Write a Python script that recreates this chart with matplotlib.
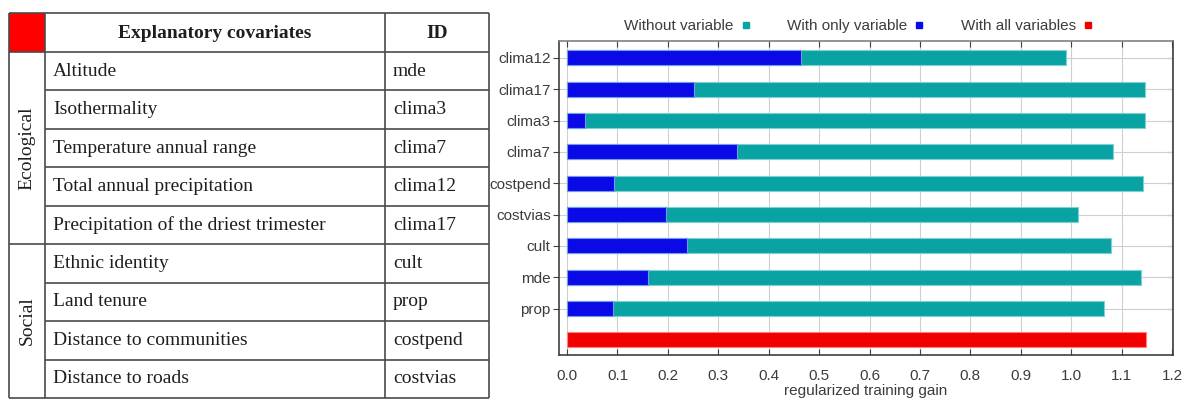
# Covariate table on the left, jackknife of regularized training gain on the right

import matplotlib.pyplot as plt
from matplotlib.lines import Line2D
from matplotlib.patches import Rectangle
import numpy as np

plt.rcParams['font.family'] = ['Liberation Sans', 'DejaVu Sans']

# table contents
groups = ['Ecological', 'Social']
group_sizes = [5, 4]
covariates = ['Altitude', 'Isothermality', 'Temperature annual range',
              'Total annual precipitation',
              'Precipitation of the driest trimester',
              'Ethnic identity', 'Land tenure', 'Distance to communities',
              'Distance to roads']
cov_ids = ['mde', 'clima3', 'clima7', 'clima12', 'clima17',
           'cult', 'prop', 'costpend', 'costvias']

# jackknife values (top to bottom)
variables = ['clima12', 'clima17', 'clima3', 'clima7', 'costpend',
             'costvias', 'cult', 'mde', 'prop']
without_var = [0.989, 1.147, 1.147, 1.083, 1.143, 1.014, 1.079, 1.139, 1.065]
only_var = [0.464, 0.252, 0.036, 0.337, 0.093, 0.196, 0.238, 0.160, 0.092]
all_vars = 1.149

TEAL = '#0aa3a3'
BLUE = '#0a0ae6'
RED = '#f20000'
GREY_TXT = '#3c3c3c'

fig = plt.figure(figsize=(11.85, 3.99), dpi=100)

# ---- table, drawn in pixel coordinates
tab = fig.add_axes([0, 0, 1, 1])
tab.set_xlim(0, 1185)
tab.set_ylim(399, 0)
tab.axis('off')

x0, x1, x2, x3 = 9, 45, 385, 489
y_top, y_head = 13, 52
row_h = (398 - y_head) / len(covariates)
line_kw = dict(color='#4a4a4a', linewidth=1.2, solid_capstyle='butt')
serif = 'Liberation Serif'
txt_col = '#1e1e1e'

tab.add_patch(Rectangle((x0, y_top), x1 - x0, y_head - y_top,
                        facecolor='#ff0000', edgecolor='none', zorder=0))
y_bottom = y_head + row_h * len(covariates)
for x in (x0, x1, x2, x3):
    tab.plot([x, x], [y_top, y_bottom], **line_kw)
tab.plot([x0, x3], [y_top, y_top], **line_kw)
tab.plot([x0, x3], [y_head, y_head], **line_kw)
tab.plot([x0, x3], [y_bottom, y_bottom], **line_kw)

tab.text((x1 + x2) / 2, (y_top + y_head) / 2 + 1, 'Explanatory covariates',
         family=serif, fontsize=14, fontweight='bold', color=txt_col,
         ha='center', va='center')
tab.text((x2 + x3) / 2, (y_top + y_head) / 2 + 1, 'ID',
         family=serif, fontsize=14, fontweight='bold', color=txt_col,
         ha='center', va='center')

for i, (name, cid) in enumerate(zip(covariates, cov_ids)):
    yc = y_head + row_h * (i + 0.5)
    tab.text(x1 + 8, yc, name, family=serif, fontsize=14, color=txt_col,
             ha='left', va='center')
    tab.text(x2 + 8, yc, cid, family=serif, fontsize=14, color=txt_col,
             ha='left', va='center')
    if i > 0:
        tab.plot([x1, x3], [y_head + row_h * i] * 2, **line_kw)

start = 0
for grp, size in zip(groups, group_sizes):
    ya = y_head + row_h * start
    yb = y_head + row_h * (start + size)
    if start > 0:
        tab.plot([x0, x1], [ya, ya], **line_kw)
    tab.text((x0 + x1) / 2, (ya + yb) / 2, grp, family=serif, fontsize=14,
             color=txt_col, rotation=90, ha='center', va='center')
    start += size

# ---- bar chart
ax = fig.add_axes([559 / 1185, 44 / 399, 614 / 1185, 314 / 399])
ypos = np.arange(len(variables))
bar_h = 0.48
ax.barh(ypos, without_var, height=bar_h, color=TEAL,
        edgecolor='#7fd0d0', linewidth=0.8, zorder=2)
ax.barh(ypos, only_var, height=bar_h, color=BLUE,
        edgecolor='#6f9be8', linewidth=0.8, zorder=3)
ax.barh([len(variables)], [all_vars], height=bar_h, color=RED,
        edgecolor='#ff8080', linewidth=0.8, zorder=3)

ax.set_yticks(ypos)
ax.set_yticklabels(variables)
ax.set_ylim(len(variables) + 0.48, -0.54)
ax.set_xlim(-0.016, 1.202)
ax.set_xticks(np.arange(0, 1.21, 0.1))
ax.set_xticklabels(['%.1f' % v for v in np.arange(0, 1.21, 0.1)])

ax.grid(True, color='#cfcfcf', linewidth=0.8, zorder=0)
ax.set_axisbelow(True)

ax.tick_params(axis='x', direction='in', top=True, length=4,
               labelsize=11, labelcolor=GREY_TXT, color='#404040', pad=10)
ax.tick_params(axis='y', direction='out', length=4, labelsize=11,
               labelcolor=GREY_TXT, color='#404040', pad=2)
right = ax.secondary_yaxis('right')
right.set_yticks(ypos)
right.tick_params(direction='in', length=4, labelright=False, color='#404040')
right.spines['right'].set_visible(False)

for side in ax.spines:
    ax.spines[side].set_color('#404040')
    ax.spines[side].set_linewidth(1.2)
ax.spines['top'].set_color('#808080')

ax.set_xlabel('regularized training gain', fontsize=11, color=GREY_TXT,
              labelpad=1)

handles = [Line2D([], [], marker='s', linestyle='', color=c, markersize=5)
           for c in (TEAL, BLUE, RED)]
ax.legend(handles, ['Without variable', 'With only variable',
                    'With all variables'],
          loc='lower center', bbox_to_anchor=(0.49, 1.0), ncol=3,
          frameon=False, markerfirst=False, fontsize=11,
          labelcolor=GREY_TXT, handletextpad=0.3, columnspacing=2.2,
          borderaxespad=0.1, handlelength=1.0)

fig.savefig('out.png', dpi=100)
